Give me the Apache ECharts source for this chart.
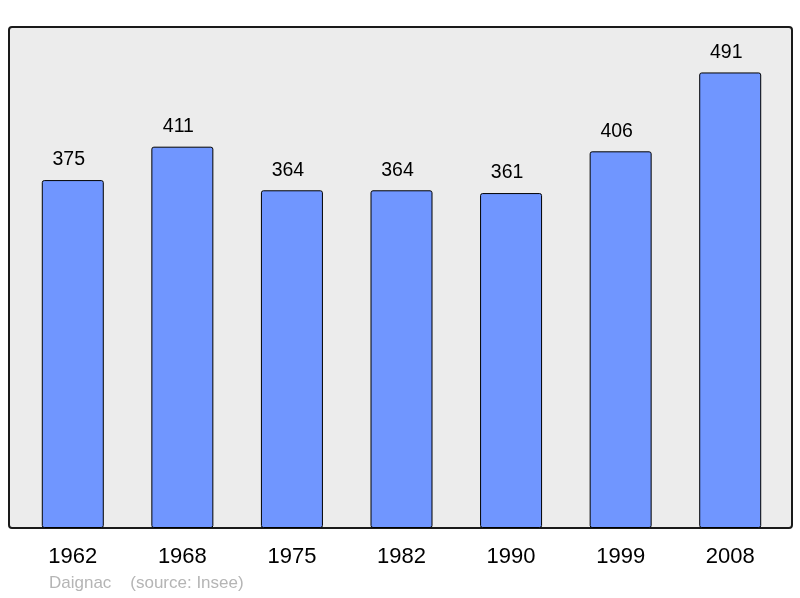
<!DOCTYPE html>
<html>
<head>
<meta charset="utf-8">
<script src="https://cdn.jsdelivr.net/npm/echarts@6/dist/echarts.min.js"></script>
<style>
  html, body { margin: 0; padding: 0; background: #fff; }
  #chart { width: 800px; height: 598px; }
</style>
</head>
<body>
<div id="chart"></div>
<script>
const years = ['1962', '1968', '1975', '1982', '1990', '1999', '2008'];
const population = [375, 411, 364, 364, 361, 406, 491];

const myChart = echarts.init(document.getElementById('chart'));
myChart.setOption({
  animation: false,
  textStyle: { fontFamily: 'Liberation Sans, Arial, sans-serif' },
  title: {
    text: 'Daignac    (source: Insee)',
    left: 49,
    top: 575,
    padding: 0,
    textStyle: { fontSize: 17, fontWeight: 'normal', color: '#b5b5b5' }
  },
  // background box behind the plot
  graphic: [{
    type: 'rect',
    z: 0,
    shape: { x: 9, y: 27, width: 783, height: 501, r: 3 },
    style: { fill: '#ececec', stroke: '#1a1a1a', lineWidth: 2 }
  }],
  grid: { left: 18, right: 15, top: 27, bottom: 70 },
  xAxis: {
    type: 'category',
    data: years,
    axisLine: { show: false },
    axisTick: { show: false },
    axisLabel: { fontSize: 22, color: '#000', margin: 18 }
  },
  yAxis: {
    type: 'value',
    min: 0,
    max: 540,
    show: false,
    splitLine: { show: false }
  },
  series: [{
    type: 'bar',
    z: 2,
    data: population,
    barWidth: 62,
    itemStyle: {
      color: '#7096ff',
      borderColor: '#000',
      borderWidth: 1,
      borderRadius: 2
    },
    label: {
      show: true,
      position: 'top',
      distance: 10,
      offset: [-4, 0],
      fontSize: 19.5,
      color: '#000'
    }
  }]
});
</script>
</body>
</html>
